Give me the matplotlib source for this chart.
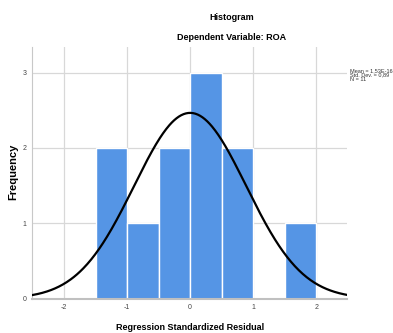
import numpy as np
import matplotlib
matplotlib.use("Agg")
import matplotlib.pyplot as plt

plt.rcParams['font.family'] = ['Liberation Sans', 'DejaVu Sans']
plt.rcParams['axes.unicode_minus'] = False

# Data
bin_left = [-1.5, -1.0, -0.5, 0.0, 0.5, 1.5]
counts = [2, 1, 2, 3, 2, 1]
bin_width = 0.5
mean = 1.53e-16
std = 0.89
n = 11
x_ticks = [-2, -1, 0, 1, 2]
y_ticks = [0, 1, 2, 3]

W, H = 393, 333
fig = plt.figure(figsize=(W / 100, H / 100), dpi=100)
ax = fig.add_axes([32 / W, 1 - 298.6 / H, (347 - 32) / W, (298.6 - 47) / H])

ax.set_xlim(-2.51, 2.49)
ax.set_ylim(0, 3.34)

ax.set_axisbelow(True)
ax.grid(True, color='#d8d8d8', linewidth=0.9)
ax.bar(bin_left, counts, width=bin_width, align='edge', color='#5595e5',
       edgecolor='white', linewidth=1.0, zorder=2)

xs = np.linspace(-2.51, 2.49, 400)
ys = n * bin_width * np.exp(-0.5 * ((xs - mean) / std) ** 2) / (std * np.sqrt(2 * np.pi))
ax.plot(xs, ys, color='black', linewidth=1.6, zorder=3)

ax.set_xticks(x_ticks)
ax.set_yticks(y_ticks)
ax.tick_params(axis='both', labelsize=5, length=0, pad=4, colors='#444444')
for s in ['top', 'right']:
    ax.spines[s].set_visible(False)
ax.spines['left'].set_color('#c8c8c8')
ax.spines['bottom'].set_color('#c0c0c0')
ax.spines['bottom'].set_linewidth(1.5)

fig.text(13 / W, 1 - 172 / H, 'Frequency', ha='center', va='center', rotation=90,
         fontsize=8, fontweight='bold')
fig.text(190 / W, 1 - 327.5 / H, 'Regression Standardized Residual', ha='center',
         va='center', fontsize=6.5, fontweight='bold')
fig.text(232 / W, 1 - 17 / H, 'Histogram', ha='center', va='center',
         fontsize=6.5, fontweight='bold')
fig.text(232 / W, 1 - 38 / H, 'Dependent Variable: ROA', ha='center', va='center',
         fontsize=6.5, fontweight='bold')
fig.text(350 / W, 1 - 68 / H, 'Mean = 1,53E-16\nStd. Dev. = 0,89\nN = 11',
         ha='left', va='top', fontsize=4, linespacing=0.85, color='#333333')

fig.savefig('out.png', dpi=100)
